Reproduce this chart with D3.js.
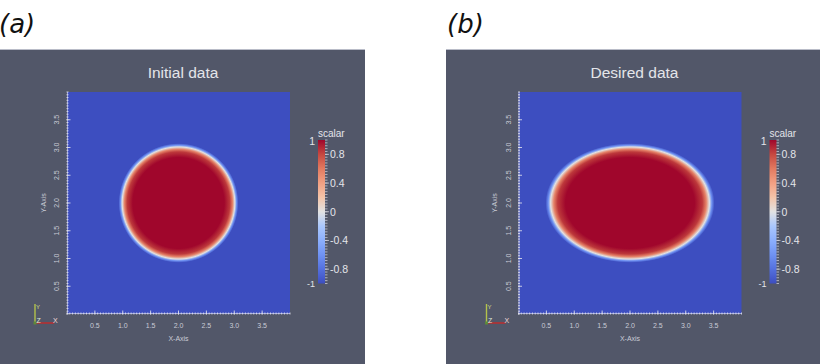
<!DOCTYPE html>
<html><head><meta charset="utf-8">
<script src="https://cdn.jsdelivr.net/npm/d3@7"></script>
<style>
html,body{margin:0;padding:0;background:#fff;}
svg{display:block;}
</style></head>
<body>
<svg id="chart" width="820" height="364"></svg>
<script>
// ---------- data ----------
const panelLabels = ["(a)", "(b)"];
const panelTitles = ["Initial data", "Desired data"];
// scalar-field shape (domain units)
const shapeCenterX = [2.0, 2.0];
const shapeCenterY = [2.0, 2.0];
const shapeRadiusX = [1.0, 1.41];
const shapeRadiusY = [1.0, 1.0];
// radial profile of the scalar across the interface (radius relative to shape radius)
const profileRadius = [0.00, 0.82, 0.92, 0.97, 1.01, 1.04, 1.075];
const profileValue  = [1.00, 1.00, 0.85, 0.55, 0.00, -0.60, -1.00];
// axes
const axisDomain = [0, 4];
const axisTicks = [0.5, 1.0, 1.5, 2.0, 2.5, 3.0, 3.5];
const axisTickLabels = ["0.5", "1.0", "1.5", "2.0", "2.5", "3.0", "3.5"];
const xAxisTitle = "X-Axis";
const yAxisTitle = "Y-Axis";
// colour legend
const legendTitle = "scalar";
const legendDomain = [-1, 1];
const legendTicks = [0.8, 0.4, 0, -0.4, -0.8];
const legendTickLabels = ["0.8", "0.4", "0", "-0.4", "-0.8"];
const legendEndLabels = ["1", "-1"];
// Cool-to-Warm colour map
const cmapValues = [-1, -0.8, -0.6, -0.4, -0.2, 0, 0.2, 0.4, 0.6, 0.8, 1];
const cmapColors = ["#3d4ec0", "#5470de", "#6f92f3", "#8caffe", "#aac7fd", "#e2e2e2",
                    "#f4c4a9", "#f2a083", "#e27a60", "#c64840", "#a0062c"];

// ---------- layout ----------
const W = 820, H = 364;
const bgColor = "#525769";
const textColor = "#e4e5ea";
const panelBg = [[-10, 365], [446, 830]];
const plotLeft = [67, 518.5];
const plotTop = 92, plotW = 223, plotH = 222;

const color = d3.scaleLinear().domain(cmapValues).range(cmapColors).interpolate(d3.interpolateRgb);

const svg = d3.select("#chart");
const defs = svg.append("defs");

panelLabels.forEach((lab, i) => {
  const g = svg.append("g");
  // panel background
  g.append("rect").attr("x", panelBg[i][0]).attr("y", 49)
    .attr("width", panelBg[i][1] - panelBg[i][0]).attr("height", H - 49)
    .attr("fill", bgColor);
  g.append("line").attr("x1", panelBg[i][0]).attr("x2", panelBg[i][1])
    .attr("y1", 49.5).attr("y2", 49.5).attr("stroke", "#b9bcc8").attr("stroke-width", 1);

  // panel letter
  svg.append("text").attr("x", i === 0 ? -1 : 447).attr("y", 33)
    .attr("font-family", "DejaVu Sans").attr("font-style", "italic")
    .attr("font-size", 26).attr("fill", "#111").text(lab);

  const L = plotLeft[i];
  const x = d3.scaleLinear().domain(axisDomain).range([L, L + plotW]);
  const y = d3.scaleLinear().domain(axisDomain).range([plotTop + plotH, plotTop]);

  // title
  g.append("text").attr("x", L + 116).attr("y", 78).attr("text-anchor", "middle")
    .attr("font-family", "Liberation Sans, Arial, sans-serif").attr("font-size", 15.5)
    .attr("fill", textColor).text(panelTitles[i]);

  // plot: background (value -1)
  const clipId = "clip" + i;
  defs.append("clipPath").attr("id", clipId).append("rect")
    .attr("x", L).attr("y", plotTop).attr("width", plotW).attr("height", plotH);
  g.append("rect").attr("x", L).attr("y", plotTop).attr("width", plotW).attr("height", plotH)
    .attr("fill", color(legendDomain[0]));

  // shape with radial scalar profile
  const rMax = profileRadius[profileRadius.length - 1];
  const gradId = "rg" + i;
  const rg = defs.append("radialGradient").attr("id", gradId)
    .attr("cx", 0.5).attr("cy", 0.5).attr("r", 0.5);
  profileRadius.forEach((r, k) => {
    rg.append("stop").attr("offset", r / rMax).attr("stop-color", color(profileValue[k]));
  });
  g.append("ellipse").attr("clip-path", `url(#${clipId})`)
    .attr("cx", x(shapeCenterX[i])).attr("cy", y(shapeCenterY[i]))
    .attr("rx", x(shapeRadiusX[i] * rMax) - x(0))
    .attr("ry", y(0) - y(shapeRadiusY[i] * rMax))
    .attr("fill", `url(#${gradId})`);

  // axes ticks (minor + major)
  const minor = d3.range(0, 4.0001, 0.05);
  const axG = g.append("g").attr("stroke", "#e8e8f0").attr("stroke-width", 0.8);
  axG.selectAll(".mx").data(minor).join("line")
    .attr("x1", d => x(d)).attr("x2", d => x(d))
    .attr("y1", plotTop + plotH - 1.5).attr("y2", plotTop + plotH + 0.5);
  axG.selectAll(".Mx").data(axisTicks).join("line")
    .attr("x1", d => x(d)).attr("x2", d => x(d))
    .attr("y1", plotTop + plotH - 3.5).attr("y2", plotTop + plotH + 0.5);
  axG.append("line").attr("x1", L).attr("x2", L + plotW)
    .attr("y1", plotTop + plotH - 0.5).attr("y2", plotTop + plotH - 0.5).attr("stroke-opacity", 0.7);
  axG.selectAll(".my").data(minor).join("line")
    .attr("y1", d => y(d)).attr("y2", d => y(d))
    .attr("x1", L - 0.5).attr("x2", L + 1.5);
  axG.selectAll(".My").data(axisTicks).join("line")
    .attr("y1", d => y(d)).attr("y2", d => y(d))
    .attr("x1", L - 0.5).attr("x2", L + 3.5);
  axG.append("line").attr("y1", plotTop).attr("y2", plotTop + plotH)
    .attr("x1", L + 0.5).attr("x2", L + 0.5).attr("stroke-opacity", 0.7);

  const tickFont = { "font-family": "Liberation Sans, Arial, sans-serif", "font-size": 7, "fill": "#c9cbd6" };
  const xt = g.selectAll(".xt").data(axisTicks).join("text")
    .attr("x", d => x(d)).attr("y", 328).attr("text-anchor", "middle")
    .text((d, k) => axisTickLabels[k]);
  const yt = g.selectAll(".yt").data(axisTicks).join("text")
    .attr("transform", d => `translate(${L - 8},${y(d)}) rotate(-90)`)
    .attr("text-anchor", "middle")
    .text((d, k) => axisTickLabels[k]);
  const xl = g.append("text").attr("x", x(2)).attr("y", 341).attr("text-anchor", "middle").text(xAxisTitle);
  const yl = g.append("text").attr("transform", `translate(${L - 21.5},${y(2)}) rotate(-90)`)
    .attr("text-anchor", "middle").text(yAxisTitle);
  [xt, yt, xl, yl].forEach(s => Object.entries(tickFont).forEach(([k, v]) => s.attr(k, v)));

  // colour legend
  const bx = L + 251, bw = 7;
  const ly = d3.scaleLinear().domain(legendDomain).range([283.5, 140]);
  const lgId = "lg" + i;
  const lg = defs.append("linearGradient").attr("id", lgId)
    .attr("x1", 0).attr("x2", 0).attr("y1", 1).attr("y2", 0);
  cmapValues.forEach((v, k) => {
    lg.append("stop").attr("offset", (v - legendDomain[0]) / (legendDomain[1] - legendDomain[0]))
      .attr("stop-color", cmapColors[k]);
  });
  g.append("rect").attr("x", bx).attr("y", ly(1)).attr("width", bw).attr("height", ly(-1) - ly(1))
    .attr("fill", `url(#${lgId})`);
  const lt = g.append("g").attr("stroke", "#d8d9e2").attr("stroke-width", 0.7);
  lt.selectAll("line.m").data(d3.range(-1, 1.0001, 0.04)).join("line")
    .attr("x1", bx + bw).attr("x2", bx + bw + 2.5)
    .attr("y1", d => ly(d)).attr("y2", d => ly(d));
  lt.selectAll("line.M").data(legendTicks).join("line")
    .attr("x1", bx + bw).attr("x2", bx + bw + 4)
    .attr("y1", d => ly(d)).attr("y2", d => ly(d));
  const legFont = "Liberation Sans, Arial, sans-serif";
  g.selectAll(".lt").data(legendTicks).join("text")
    .attr("x", bx + bw + 5).attr("y", d => ly(d)).attr("dy", "0.36em")
    .attr("font-family", legFont).attr("font-size", 10.5).attr("fill", textColor)
    .text((d, k) => legendTickLabels[k]);
  g.append("text").attr("x", bx - 3).attr("y", ly(1) + 1).attr("dy", "0.36em")
    .attr("text-anchor", "end").attr("font-family", legFont).attr("font-size", 10.5)
    .attr("fill", textColor).text(legendEndLabels[0]);
  g.append("text").attr("x", bx - 3).attr("y", ly(-1)).attr("dy", "0.36em")
    .attr("text-anchor", "end").attr("font-family", legFont).attr("font-size", 9)
    .attr("fill", textColor).text(legendEndLabels[1]);
  g.append("text").attr("x", bx).attr("y", 136.5)
    .attr("font-family", legFont).attr("font-size", 10).attr("fill", textColor).text(legendTitle);

  // orientation axes glyph
  const ox = L - 32, oy = 323;
  g.append("line").attr("x1", ox).attr("x2", ox).attr("y1", oy).attr("y2", oy - 19)
    .attr("stroke", "#b4c24a").attr("stroke-width", 1.4);
  g.append("line").attr("x1", ox).attr("x2", ox + 19).attr("y1", oy).attr("y2", oy)
    .attr("stroke", "#c42a2a").attr("stroke-width", 1.4);
  g.append("rect").attr("x", ox - 1.5).attr("y", oy - 1.5).attr("width", 3).attr("height", 3)
    .attr("fill", "#5d8a3a");
  const gf = { "font-family": "Liberation Sans, Arial, sans-serif", "font-size": 7 };
  g.append("text").attr("x", ox + 1).attr("y", oy - 14).attr("fill", "#d8df8a")
    .attr("font-family", gf["font-family"]).attr("font-size", 6).text("Y");
  g.append("text").attr("x", ox + 1.5).attr("y", oy - 0.5).attr("fill", "#dfe6d8")
    .attr("font-family", gf["font-family"]).attr("font-size", gf["font-size"]).text("Z");
  g.append("text").attr("x", ox + 18).attr("y", oy).attr("fill", "#f0d8d8")
    .attr("font-family", gf["font-family"]).attr("font-size", gf["font-size"]).text("X");
});
</script>
</body></html>
